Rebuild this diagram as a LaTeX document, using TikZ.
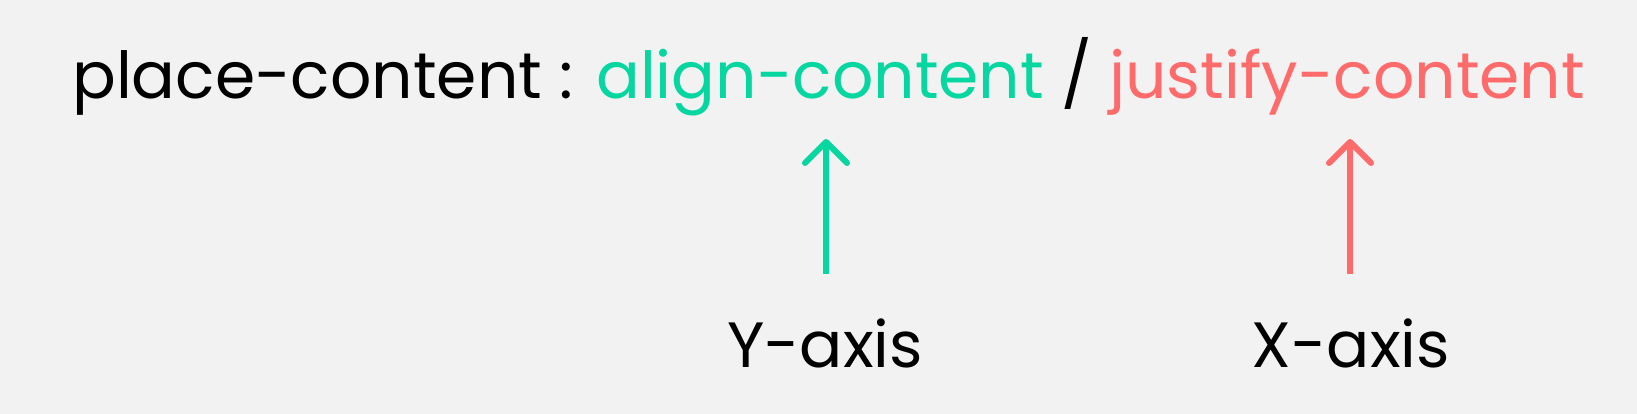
\documentclass[tikz,border=0pt]{standalone}
\usepackage{fontspec}
\setmainfont{Poppins}
\definecolor{bg}{HTML}{F2F2F2}
\definecolor{cgreen}{HTML}{06D6A0}
\definecolor{cred}{HTML}{FF6B6B}
\begin{document}
\begin{tikzpicture}[x=1pt,y=1pt,
  toptext/.style={inner sep=0pt,anchor=base west,font=\fontsize{64.8}{70}\selectfont},
  axislabel/.style={inner sep=0pt,anchor=base,font=\fontsize{64}{70}\selectfont},
  shaft/.style={line width=6pt,line cap=butt},
  chevron/.style={line width=6pt,line cap=round,line join=round}]
\fill[bg] (0,0) rectangle (1637,414);
\useasboundingbox (0,0) rectangle (1637,414);
\node[toptext] (title) at (72,315) {place-content : \textcolor{cgreen}{align-content} / \textcolor{cred}{justify-content}};
\node[axislabel] (ylab) at (825,46) {Y-axis};
\node[axislabel] (xlab) at (1351,46) {X-axis};
% green arrow
\coordinate (gtip) at (826,272);
\coordinate (gbot) at (826,140);
\coordinate (gl) at (805,251);
\coordinate (gr) at (847,251);
\draw[cgreen,shaft] (gbot) -- ([yshift=-2pt]gtip);
\draw[cgreen,chevron] (gl) -- (gtip) -- (gr);
% red arrow
\coordinate (rtip) at (1350,272);
\coordinate (rbot) at (1350,140);
\coordinate (rl) at (1329,251);
\coordinate (rr) at (1371,251);
\draw[cred,shaft] (rbot) -- ([yshift=-2pt]rtip);
\draw[cred,chevron] (rl) -- (rtip) -- (rr);
\end{tikzpicture}
\end{document}
